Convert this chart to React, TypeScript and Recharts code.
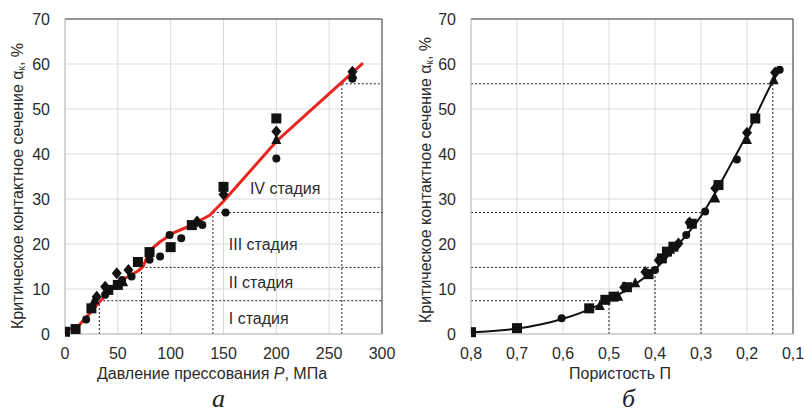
import React from 'react';
import {
  ComposedChart, Line, Scatter, XAxis, YAxis, CartesianGrid,
  ReferenceLine, ReferenceDot, Label,
} from 'recharts';

// --- panel а: contact section vs pressing pressure ---
const pressTicks = [0, 50, 100, 150, 200, 250, 300];
const sectionTicks = [0, 10, 20, 30, 40, 50, 60, 70];

const pressSquares = [
  { x: 0, y: 0.5 }, { x: 10, y: 1.1 }, { x: 25, y: 5.7 }, { x: 41, y: 9.8 },
  { x: 50, y: 10.9 }, { x: 69, y: 16 }, { x: 80, y: 18.2 }, { x: 100, y: 19.3 },
  { x: 120, y: 24.2 }, { x: 150, y: 32.7 }, { x: 200, y: 47.9 },
];
const pressDiamonds = [
  { x: 30, y: 8.3 }, { x: 38, y: 10.5 }, { x: 49, y: 13.5 }, { x: 60, y: 14.2 },
  { x: 125, y: 25 }, { x: 150, y: 31 }, { x: 200, y: 45 }, { x: 272, y: 58.3 },
];
const pressTriangles = [
  { x: 28, y: 7.5 }, { x: 55, y: 11.5 }, { x: 200, y: 43.1 }, { x: 272, y: 57.6 },
];
const pressCircles = [
  { x: 20, y: 3.2 }, { x: 38, y: 8.7 }, { x: 54, y: 12 }, { x: 63, y: 12.8 },
  { x: 80, y: 16.5 }, { x: 90, y: 17.2 }, { x: 99, y: 22 }, { x: 110, y: 21.3 },
  { x: 130, y: 24.2 }, { x: 152, y: 27 }, { x: 200, y: 39 }, { x: 272, y: 56.7 },
];
// red approximating curve
const pressFit = [
  { x: 0, y: 0.8 }, { x: 12, y: 1.6 }, { x: 22, y: 4.2 }, { x: 34, y: 7.5 },
  { x: 45, y: 10 }, { x: 54, y: 12 }, { x: 69, y: 14 }, { x: 74, y: 15 },
  { x: 80, y: 18.5 }, { x: 90, y: 20.5 }, { x: 102, y: 22.4 }, { x: 118, y: 24 },
  { x: 137, y: 26.4 }, { x: 150, y: 29.5 }, { x: 200, y: 42.8 }, { x: 282, y: 60.2 },
];
// stage boundaries: pressure, section
const stageBounds = [
  { p: 32.5, a: 7.4, por: 0.5 },
  { p: 72.5, a: 14.8, por: 0.4 },
  { p: 140, a: 27, por: 0.3 },
  { p: 262, a: 55.6, por: 0.144 },
];
const stageLabels = [
  { x: 155, y: 3.5, text: 'I стадия' },
  { x: 155, y: 11.4, text: 'II стадия' },
  { x: 155, y: 20, text: 'III стадия' },
  { x: 175, y: 32.4, text: 'IV стадия' },
];

// --- panel б: contact section vs porosity ---
const porTicks = [0.8, 0.7, 0.6, 0.5, 0.4, 0.3, 0.2, 0.1];
const porSquares = [
  { x: 0.8, y: 0.4 }, { x: 0.7, y: 1.3 }, { x: 0.543, y: 5.7 }, { x: 0.508, y: 7.6 },
  { x: 0.49, y: 8.3 }, { x: 0.461, y: 10.4 }, { x: 0.414, y: 13.3 }, { x: 0.385, y: 16.8 },
  { x: 0.374, y: 18.3 }, { x: 0.36, y: 19.4 }, { x: 0.32, y: 24.5 }, { x: 0.262, y: 33.1 },
  { x: 0.182, y: 47.9 },
];
const porDiamonds = [
  { x: 0.467, y: 10.4 }, { x: 0.421, y: 13.8 }, { x: 0.392, y: 16.4 }, { x: 0.349, y: 20.1 },
  { x: 0.325, y: 24.8 }, { x: 0.269, y: 32.4 }, { x: 0.2, y: 44.7 }, { x: 0.139, y: 58.1 },
];
const porTriangles = [
  { x: 0.52, y: 6.2 }, { x: 0.48, y: 8.3 }, { x: 0.443, y: 11.3 }, { x: 0.367, y: 18.7 },
  { x: 0.269, y: 30.1 }, { x: 0.2, y: 43.1 }, { x: 0.142, y: 56.4 },
];
const porCircles = [
  { x: 0.603, y: 3.5 }, { x: 0.4, y: 14.2 }, { x: 0.332, y: 22 }, { x: 0.291, y: 27.2 },
  { x: 0.222, y: 38.8 }, { x: 0.129, y: 58.7 },
];
const porCurve = [
  { x: 0.8, y: 0.4 }, { x: 0.7, y: 1.2 }, { x: 0.6, y: 3.4 }, { x: 0.54, y: 5.6 },
  { x: 0.5, y: 7.6 }, { x: 0.45, y: 10.6 }, { x: 0.4, y: 14.4 }, { x: 0.35, y: 19.8 },
  { x: 0.3, y: 26.2 }, { x: 0.24, y: 36.8 }, { x: 0.2, y: 44.4 }, { x: 0.146, y: 55.7 },
  { x: 0.129, y: 58.7 },
];

const INK = '#111';
const GRID = '#d9d9d9';
const TXT = '#2b2b2b';
const tickStyle = { fontSize: 16, fill: TXT };

const square = (p: any) => <rect x={p.cx - 5} y={p.cy - 5} width={10} height={10} fill={INK} />;
const diamond = (p: any) => (
  <polygon points={`${p.cx},${p.cy - 6} ${p.cx + 5},${p.cy} ${p.cx},${p.cy + 6} ${p.cx - 5},${p.cy}`} fill={INK} />
);
const triangle = (p: any) => (
  <polygon points={`${p.cx},${p.cy - 6} ${p.cx + 5},${p.cy + 4} ${p.cx - 5},${p.cy + 4}`} fill={INK} />
);
const circle = (p: any) => <circle cx={p.cx} cy={p.cy} r={4} fill={INK} />;

const YTitle = (cx: number, cy: number) => () => (
  <text x={cx} y={cy} transform={`rotate(-90 ${cx} ${cy})`} textAnchor="middle"
    dominantBaseline="central" fontSize={16} fill={TXT}>
    Критическое контактное сечение α<tspan fontSize={10} dy={4}>к</tspan>
    <tspan dy={-4}>, %</tspan>
  </text>
);

const StageText = (text: string) => ({ viewBox }: any) => (
  <text x={viewBox.x} y={viewBox.y} dominantBaseline="central" fontSize={16} fill={TXT}>{text}</text>
);

const dotted = { stroke: '#222', strokeDasharray: '2 2', strokeWidth: 1 };

export default function App() {
  return (
    <div style={{ position: 'absolute', left: 0, top: 0, width: 804, height: 412, background: '#fff',
      fontFamily: '"Liberation Sans", Arial, sans-serif' }}>
      <div style={{ position: 'absolute', left: 0, top: 0 }}>
        <ComposedChart width={400} height={412} margin={{ top: 19, right: 18, bottom: 38, left: 0 }}>
          <CartesianGrid stroke={GRID} />
          <XAxis type="number" dataKey="x" domain={[0, 300]} ticks={pressTicks} allowDataOverflow
            height={40} tick={tickStyle} tickLine={false} tickMargin={8} axisLine={{ stroke: '#bfbfbf' }}>
            <Label content={() => (
              <text x={212} y={373} textAnchor="middle" dominantBaseline="central" fontSize={16} fill={TXT}>
                Давление прессования <tspan fontStyle="italic">P</tspan>, МПа
              </text>
            )} />
          </XAxis>
          <YAxis type="number" domain={[0, 70]} ticks={sectionTicks} width={65}
            tick={tickStyle} tickLine={false} tickMargin={9} axisLine={{ stroke: '#bfbfbf' }}>
            <Label content={YTitle(17, 186)} />
          </YAxis>
          <ReferenceLine y={70} stroke="#404040" />
          <ReferenceLine x={300} stroke="#404040" />
          {stageBounds.map((b, i) => (
            <ReferenceLine key={'h' + i} segment={[{ x: b.p, y: b.a }, { x: 300, y: b.a }]} {...dotted} />
          ))}
          {stageBounds.map((b, i) => (
            <ReferenceLine key={'v' + i} segment={[{ x: b.p, y: 0 }, { x: b.p, y: b.a }]} {...dotted} />
          ))}
          {stageLabels.map((s, i) => (
            <ReferenceDot key={'s' + i} x={s.x} y={s.y} r={0} fill="none" stroke="none" label={StageText(s.text)} />
          ))}
          <Scatter data={pressSquares} dataKey="y" shape={square} isAnimationActive={false} />
          <Scatter data={pressDiamonds} dataKey="y" shape={diamond} isAnimationActive={false} />
          <Scatter data={pressTriangles} dataKey="y" shape={triangle} isAnimationActive={false} />
          <Scatter data={pressCircles} dataKey="y" shape={circle} isAnimationActive={false} />
          <Line data={pressFit} dataKey="y" type="linear" stroke="#e8261f" strokeWidth={3}
            strokeLinejoin="round" dot={false} isAnimationActive={false} />
        </ComposedChart>
      </div>
      <div style={{ position: 'absolute', left: 400, top: 0 }}>
        <ComposedChart width={404} height={412} margin={{ top: 19, right: 11, bottom: 38, left: 0 }}>
          <CartesianGrid stroke={GRID} />
          <XAxis type="number" dataKey="x" domain={[0.1, 0.8]} ticks={porTicks} reversed allowDataOverflow
            height={40} tick={tickStyle} tickLine={false} tickMargin={8} axisLine={{ stroke: '#bfbfbf' }}
            tickFormatter={(v: number) => v.toFixed(1).replace('.', ',')}>
            <Label content={() => (
              <text x={220} y={373} textAnchor="middle" dominantBaseline="central" fontSize={16} fill={TXT}>
                Пористость П
              </text>
            )} />
          </XAxis>
          <YAxis type="number" domain={[0, 70]} ticks={sectionTicks} width={71}
            tick={tickStyle} tickLine={false} tickMargin={9} axisLine={{ stroke: '#bfbfbf' }}>
            <Label content={YTitle(25, 180)} />
          </YAxis>
          <ReferenceLine y={70} stroke="#404040" />
          <ReferenceLine x={0.1} stroke="#404040" />
          {stageBounds.map((b, i) => (
            <ReferenceLine key={'h' + i} segment={[{ x: 0.8, y: b.a }, { x: b.por, y: b.a }]} {...dotted} />
          ))}
          {stageBounds.map((b, i) => (
            <ReferenceLine key={'v' + i} segment={[{ x: b.por, y: 0 }, { x: b.por, y: b.a }]} {...dotted} />
          ))}
          <Line data={porCurve} dataKey="y" type="monotone" stroke={INK} strokeWidth={2}
            dot={false} isAnimationActive={false} />
          <Scatter data={porSquares} dataKey="y" shape={square} isAnimationActive={false} />
          <Scatter data={porDiamonds} dataKey="y" shape={diamond} isAnimationActive={false} />
          <Scatter data={porTriangles} dataKey="y" shape={triangle} isAnimationActive={false} />
          <Scatter data={porCircles} dataKey="y" shape={circle} isAnimationActive={false} />
        </ComposedChart>
      </div>
      <div style={{ position: 'absolute', left: 212, top: 384, fontFamily: '"Liberation Serif", serif',
        fontStyle: 'italic', fontSize: 26, color: '#222' }}>а</div>
      <div style={{ position: 'absolute', left: 622, top: 384, fontFamily: '"Liberation Serif", serif',
        fontStyle: 'italic', fontSize: 26, color: '#222' }}>б</div>
    </div>
  );
}
